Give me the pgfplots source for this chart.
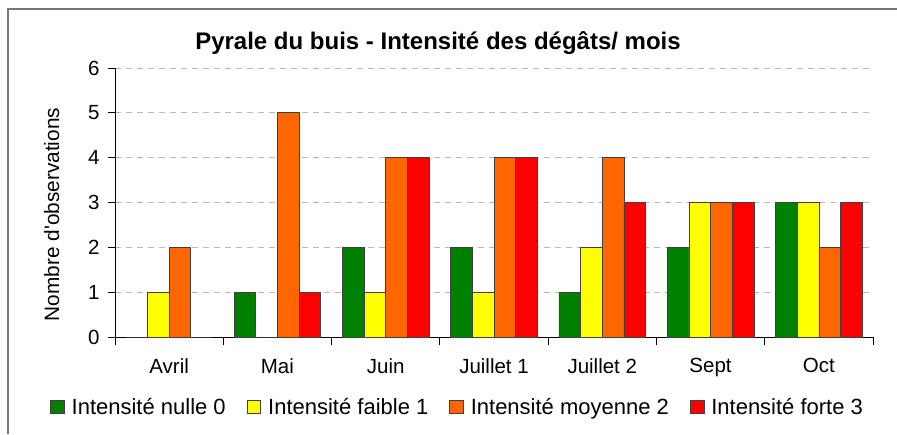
\documentclass[border=0pt]{standalone}
\usepackage{fontspec}
\setmainfont{Liberation Sans}
\usepackage{pgfplots}
\pgfplotsset{compat=1.18}
\definecolor{cg}{RGB}{0,128,0}
\definecolor{cy}{RGB}{255,255,0}
\definecolor{co}{RGB}{255,102,0}
\definecolor{cr}{RGB}{255,0,0}
\definecolor{frame}{RGB}{120,120,120}
\pgfplotsset{sqleg/.style={legend image code/.code={\draw[##1,draw=black!75,line width=0.8pt] (0pt,-6.8pt) rectangle (13.6pt,6.8pt);}}}
\begin{document}
\begin{tikzpicture}[x=1pt,y=1pt]
\useasboundingbox (0,0) rectangle (897,434);
\draw[frame, line width=1.6pt] (8,0) -- (8,425) -- (897,425);
\node[anchor=base, font=\fontsize{24}{28}\selectfont\bfseries] at (438,384) {Pyrale du buis - Intensité des dégâts/ mois};
\node[rotate=90, anchor=base, font=\fontsize{20.8}{24}\selectfont] at (59,219.5) {Nombre d\textquotesingle observations};
\begin{axis}[
  at={(115pt,97pt)}, anchor=south west,
  scale only axis, width=758pt, height=269pt,
  xmin=-0.5, xmax=6.5, ymin=0, ymax=6,
  ybar=0pt, bar width=21.66pt,
  axis x line*=bottom, axis y line*=left,
  axis line style={black, line width=0.9pt, -},
  xtick={0,...,6}, xticklabels={Avril,Mai,Juin,Juillet 1,Juillet 2,Sept,Oct},
  minor xtick={-0.5,0.5,...,6.5},
  major x tick style={draw=none},
  minor x tick style={black, line width=0.9pt},
  major y tick style={black, line width=0.9pt},
  minor tick length=8pt, major tick length=7pt, tick align=outside,
  ytick={0,...,6},
  ymajorgrids, grid style={gray!55, line width=1pt, dash pattern=on 6pt off 5pt},
  /pgf/number format/assume math mode=true,
  tick label style={font=\fontsize{20.5}{24}\selectfont},
  yticklabel style={xshift=-5pt},
  xticklabel style={yshift=-11pt},
  legend columns=4,
  legend style={at={(axis description cs:0.452,-0.26)}, anchor=center, draw=none, fill=none,
    font=\fontsize{22}{26}\selectfont,
    /tikz/every odd column/.append style={column sep=5pt},
    /tikz/every even column/.append style={column sep=19pt}},
  every axis plot/.append style={draw=black!75, line width=0.7pt},
]
\addplot[fill=cg, draw=black!75, sqleg] coordinates {(0,0) (1,1) (2,2) (3,2) (4,1) (5,2) (6,3)};
\addplot[fill=cy, draw=black!75, sqleg] coordinates {(0,1) (1,0) (2,1) (3,1) (4,2) (5,3) (6,3)};
\addplot[fill=co, draw=black!75, sqleg] coordinates {(0,2) (1,5) (2,4) (3,4) (4,4) (5,3) (6,2)};
\addplot[fill=cr, draw=black!75, sqleg] coordinates {(0,0) (1,1) (2,4) (3,4) (4,3) (5,3) (6,3)};
\legend{Intensité nulle 0, Intensité faible 1, Intensité moyenne 2, Intensité forte 3}
\end{axis}
\end{tikzpicture}
\end{document}
